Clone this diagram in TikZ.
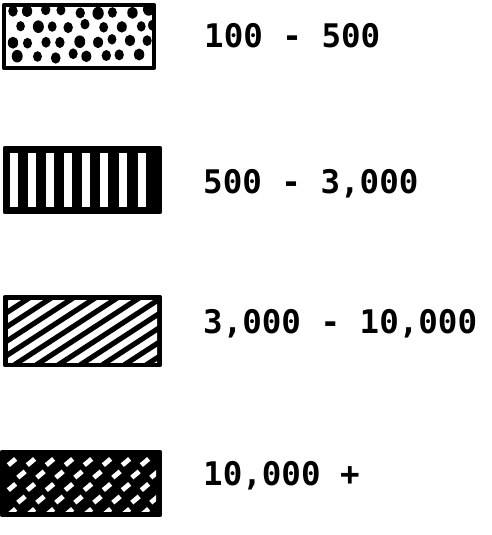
\documentclass[tikz,border=0pt]{standalone}
\usepackage{fontspec}
\setmonofont{DejaVu Sans Mono}
\begin{document}
\begin{tikzpicture}[x=1pt,y=-1pt,
  frame/.style={draw=black,line width=4.2pt,line join=round},
  lbl/.style={anchor=west,inner sep=0pt,font=\ttfamily\bfseries\fontsize{32.5}{38}\selectfont}]
\useasboundingbox (0,0) rectangle (491,535);
% ---- box 1 : dots
\begin{scope}
\clip (4,5) rectangle (154,68);
\pgfmathsetseed{11}
\foreach \r in {0,...,3}{
  \foreach \c in {0,...,8}{
    \pgfmathsetmacro\xx{11+\c*17+mod(\r,2)*8.5+rand*3}
    \pgfmathsetmacro\yy{11+\r*15+rand*2.5}
    \pgfmathsetmacro\rr{4.2+rnd*1.6}
    \pgfmathsetmacro\ry{\rr+0.8}
    \fill (\xx,\yy) ellipse ({\rr pt} and {\ry pt});
  }}
\end{scope}
\node[frame,minimum width=150pt,minimum height=63pt,inner sep=0pt] (b1) at (79,36.5) {};
% ---- box 2 : vertical stripes
\fill (5,148) rectangle (160,212);
\foreach \x in {14,32,50,68,86,104,123,142}{
  \fill[white] (\x-3.6,153) rectangle (\x+3.6,207);
}
\node[frame,minimum width=155pt,minimum height=64pt,inner sep=0pt] (b2) at (82.5,180) {};
% ---- box 3 : diagonal stripes
\fill (5,297) rectangle (160,365);
\begin{scope}
\clip (8,300) rectangle (157,362);
\foreach \k in {-6,...,12}{
  \draw[white,line width=6.5pt] (\k*22-20,380) -- ++(160,-104);
}
\end{scope}
\node[frame,minimum width=155pt,minimum height=68pt,inner sep=0pt] (b3) at (82.5,331) {};
% ---- box 4 : cross hatch (black with white holes)
\fill (2,452) rectangle (160,515);
\begin{scope}
\clip (6,456) rectangle (156,511);
\foreach \r in {0,...,4}{
  \foreach \c in {0,...,8}{
    \pgfmathsetmacro\xx{12+\c*19+mod(\r,2)*9.5}
    \pgfmathsetmacro\yy{462+\r*12.5}
    \fill[white,rotate around={40:(\xx,\yy)}] (\xx-4.8,\yy-2.4) rectangle (\xx+4.8,\yy+2.4);
  }}
\end{scope}
\node[frame,minimum width=158pt,minimum height=63pt,inner sep=0pt] (b4) at (81,483.5) {};
% ---- labels
\node[lbl] (t1) at (204,36) {100 - 500};
\node[lbl] (t2) at (203,184) {500 - 3,000};
\node[lbl] (t3) at (203,324) {3,000 - 10,000};
\node[lbl] (t4) at (203,476) {10,000 +};
\end{tikzpicture}
\end{document}
